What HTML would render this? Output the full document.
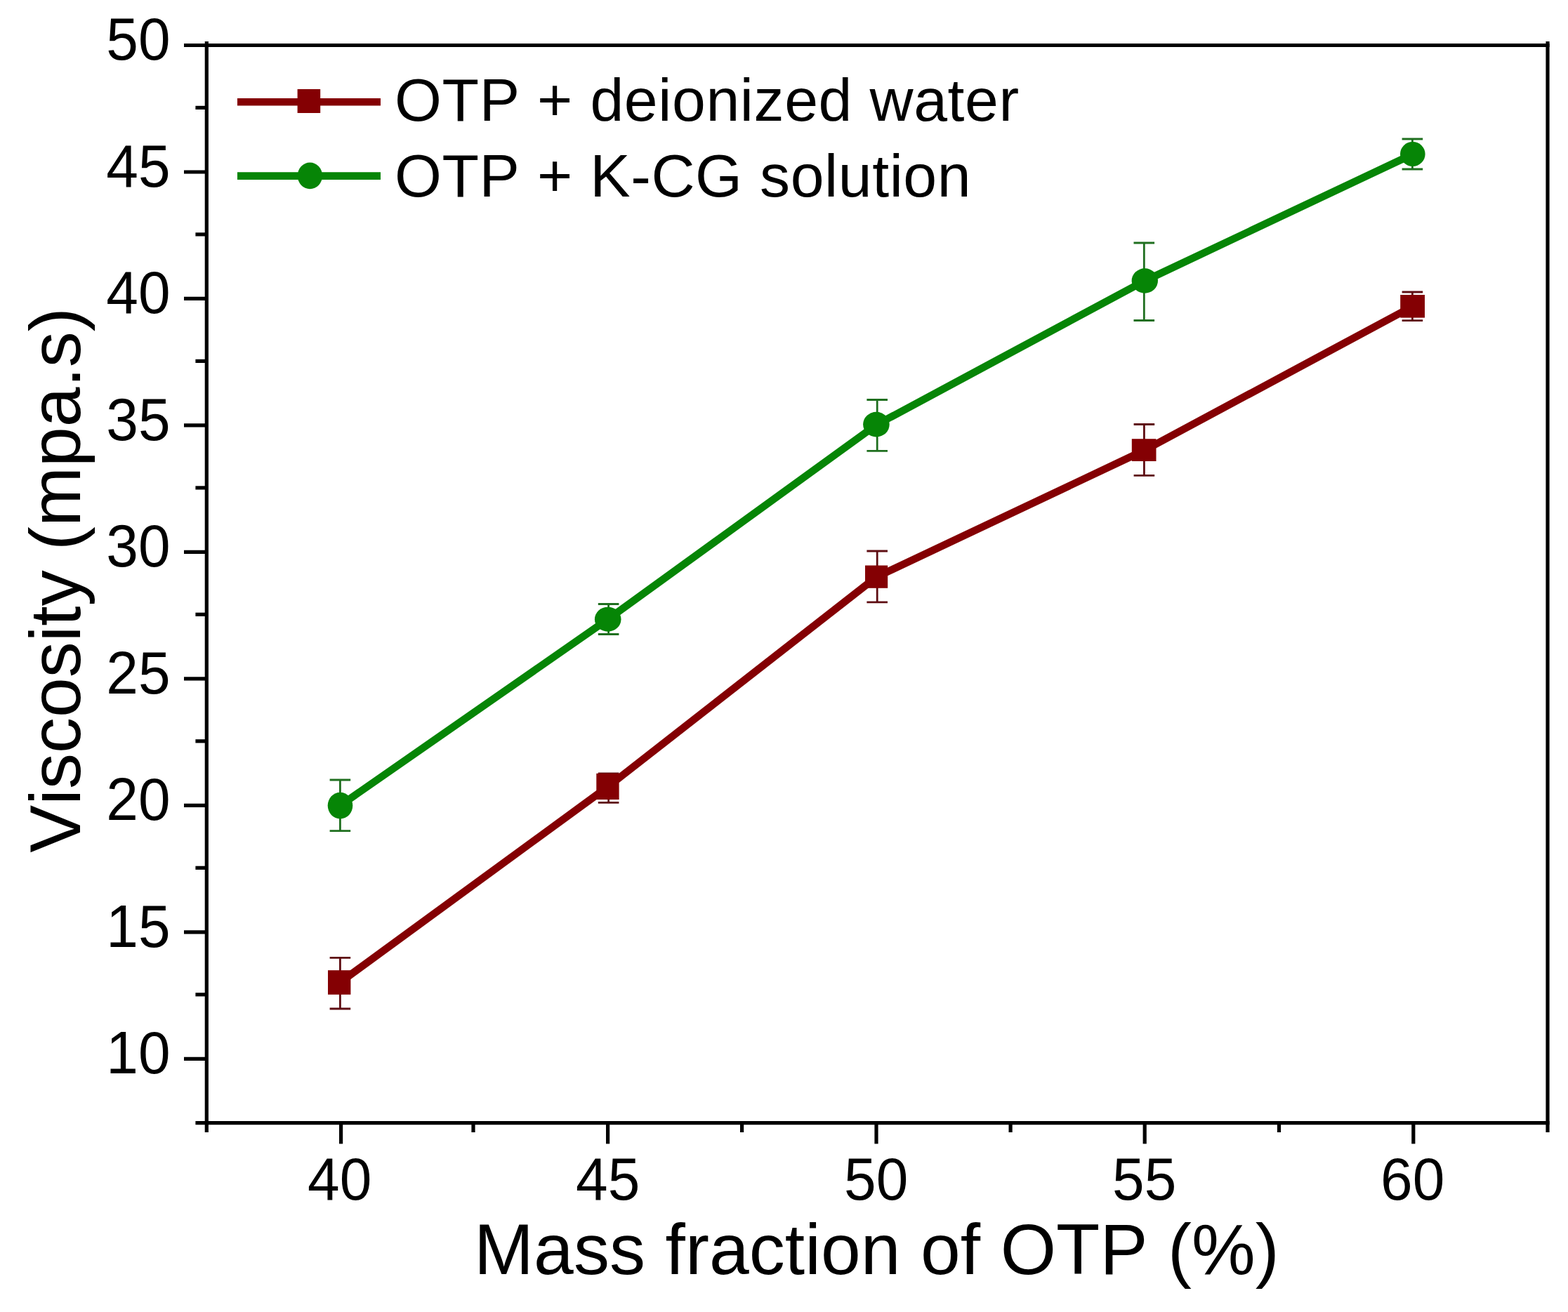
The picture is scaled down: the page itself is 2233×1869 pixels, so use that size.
<!DOCTYPE html>
<html lang="en"><head><meta charset="utf-8"><title>Viscosity vs mass fraction of OTP</title>
<style>
html,body{margin:0;padding:0;background:#fff;}
body{width:2233px;height:1869px;overflow:hidden;}
svg{display:block;}
text{font-family:"Liberation Sans",sans-serif;fill:#000;font-kerning:none;}
.tk{font-size:82px;}
.tt{font-size:102px;}
.lg{font-size:86px;}
</style></head><body>
<svg width="2233" height="1869" viewBox="0 0 2233 1869">
<rect x="0" y="0" width="2233" height="1869" fill="#ffffff"/>
<g stroke="#000" stroke-width="5.2" fill="none" stroke-linecap="butt">
<line x1="294.3" y1="59" x2="294.3" y2="1613"/>
<line x1="2204.0" y1="59" x2="2204.0" y2="1613"/>
<line x1="262.0" y1="64.5" x2="2206.6" y2="64.5"/>
<line x1="278.4" y1="1599.7" x2="2206.6" y2="1599.7"/>
<line x1="262" y1="1508.3" x2="294.3" y2="1508.3"/>
<line x1="262" y1="1327.8" x2="294.3" y2="1327.8"/>
<line x1="262" y1="1147.3" x2="294.3" y2="1147.3"/>
<line x1="262" y1="966.9" x2="294.3" y2="966.9"/>
<line x1="262" y1="786.4" x2="294.3" y2="786.4"/>
<line x1="262" y1="605.9" x2="294.3" y2="605.9"/>
<line x1="262" y1="425.4" x2="294.3" y2="425.4"/>
<line x1="262" y1="245.0" x2="294.3" y2="245.0"/>
<line x1="278.4" y1="1416.8" x2="294.3" y2="1416.8"/>
<line x1="278.4" y1="1236.3" x2="294.3" y2="1236.3"/>
<line x1="278.4" y1="1055.8" x2="294.3" y2="1055.8"/>
<line x1="278.4" y1="875.3" x2="294.3" y2="875.3"/>
<line x1="278.4" y1="694.9" x2="294.3" y2="694.9"/>
<line x1="278.4" y1="514.4" x2="294.3" y2="514.4"/>
<line x1="278.4" y1="333.9" x2="294.3" y2="333.9"/>
<line x1="278.4" y1="153.4" x2="294.3" y2="153.4"/>
<line x1="485.6" y1="1599.7" x2="485.6" y2="1629.4"/>
<line x1="865.6" y1="1599.7" x2="865.6" y2="1629.4"/>
<line x1="1248.0" y1="1599.7" x2="1248.0" y2="1629.4"/>
<line x1="1630.2" y1="1599.7" x2="1630.2" y2="1629.4"/>
<line x1="2012.8" y1="1599.7" x2="2012.8" y2="1629.4"/>
<line x1="674.0" y1="1599.7" x2="674.0" y2="1613"/>
<line x1="1056.6" y1="1599.7" x2="1056.6" y2="1613"/>
<line x1="1439.1" y1="1599.7" x2="1439.1" y2="1613"/>
<line x1="1821.5" y1="1599.7" x2="1821.5" y2="1613"/>
</g>
<g class="tk">
<text transform="translate(242.5 1529.0) scale(1 1.030)" text-anchor="end">10</text>
<text transform="translate(242.5 1348.5) scale(1 1.030)" text-anchor="end">15</text>
<text transform="translate(242.5 1168.0) scale(1 1.030)" text-anchor="end">20</text>
<text transform="translate(242.5 987.6) scale(1 1.030)" text-anchor="end">25</text>
<text transform="translate(242.5 807.1) scale(1 1.030)" text-anchor="end">30</text>
<text transform="translate(242.5 626.6) scale(1 1.030)" text-anchor="end">35</text>
<text transform="translate(242.5 446.1) scale(1 1.030)" text-anchor="end">40</text>
<text transform="translate(242.5 265.7) scale(1 1.030)" text-anchor="end">45</text>
<text transform="translate(242.5 85.2) scale(1 1.030)" text-anchor="end">50</text>
<text transform="translate(483.7 1709.3) scale(1 1.030)" text-anchor="middle">40</text>
<text transform="translate(865.7 1709.3) scale(1 1.030)" text-anchor="middle">45</text>
<text transform="translate(1247.7 1709.3) scale(1 1.030)" text-anchor="middle">50</text>
<text transform="translate(1629.7 1709.3) scale(1 1.030)" text-anchor="middle">55</text>
<text transform="translate(2011.7 1709.3) scale(1 1.030)" text-anchor="middle">60</text>
</g>
<text class="tt" x="1248.5" y="1815" style="letter-spacing:0.08px" text-anchor="middle">Mass fraction of OTP (%)</text>
<text class="tt" transform="translate(114 826.5) rotate(-90)" text-anchor="middle">Viscosity (mpa.s)</text>
<polyline points="484.0,1399.6 865.8,1120.6 1248.1,822.0 1629.9,641.4 2011.9,436.4" fill="none" stroke="#840003" stroke-width="10.6" stroke-linejoin="round"/>
<g stroke="#5e0d12" stroke-width="2.8" fill="none">
<path d="M484.4 1364.3V1437.0M469.6 1364.3H499.2M469.6 1437.0H499.2"/>
<path d="M866.6 1102.0V1143.3M851.8 1102.0H881.4M851.8 1143.3H881.4"/>
<path d="M1249.2 785.0V857.8M1234.4 785.0H1264.0M1234.4 857.8H1264.0"/>
<path d="M1629.4 604.5V677.3M1614.6 604.5H1644.2M1614.6 677.3H1644.2"/>
<path d="M2011.4 416.0V456.6M1996.6 416.0H2026.2M1996.6 456.6H2026.2"/>
</g>
<rect x="467.0" y="1382.2" width="32.4" height="34.6" fill="#840003"/>
<rect x="849.3" y="1101.8" width="32.3" height="37.2" fill="#840003"/>
<rect x="1232.0" y="805.5" width="32.2" height="32.3" fill="#840003"/>
<rect x="1611.8" y="625.2" width="34.7" height="31.8" fill="#840003"/>
<rect x="1994.2" y="420.0" width="34.8" height="32.6" fill="#840003"/>
<polyline points="484.4,1147.5 865.8,882.2 1248.0,605.2 1630.1,400.1 2012.0,219.6" fill="none" stroke="#068506" stroke-width="10.6" stroke-linejoin="round"/>
<g stroke="#1f6f1f" stroke-width="2.8" fill="none">
<path d="M484.4 1111.0V1183.6M469.6 1111.0H499.2M469.6 1183.6H499.2"/>
<path d="M866.6 860.5V903.5M851.8 860.5H881.4M851.8 903.5H881.4"/>
<path d="M1249.2 569.5V642.4M1234.4 569.5H1264.0M1234.4 642.4H1264.0"/>
<path d="M1629.3 346.0V456.5M1614.5 346.0H1644.1M1614.5 456.5H1644.1"/>
<path d="M2011.4 198.0V241.0M1996.6 198.0H2026.2M1996.6 241.0H2026.2"/>
</g>
<ellipse cx="484.5" cy="1147.6" rx="17.8" ry="18.8" fill="#068506"/>
<ellipse cx="865.7" cy="882.2" rx="18.8" ry="17.5" fill="#068506"/>
<ellipse cx="1247.9" cy="604.6" rx="18.8" ry="17.8" fill="#068506"/>
<ellipse cx="1630.3" cy="400.0" rx="18.7" ry="17.7" fill="#068506"/>
<ellipse cx="2011.8" cy="219.5" rx="17.8" ry="17.5" fill="#068506"/>
<line x1="338" y1="145.2" x2="542" y2="145.2" stroke="#840003" stroke-width="10.4"/>
<rect x="423.6" y="127" width="32.6" height="34" fill="#840003"/>
<line x1="338" y1="250.6" x2="542" y2="250.6" stroke="#068506" stroke-width="10.6"/>
<ellipse cx="441.4" cy="250.4" rx="17.7" ry="18.8" fill="#068506"/>
<text class="lg" x="562" y="172" style="letter-spacing:0.6px">OTP + deionized water</text>
<text class="lg" x="562" y="279.5" style="letter-spacing:0.58px">OTP + K-CG solution</text>
</svg></body></html>
